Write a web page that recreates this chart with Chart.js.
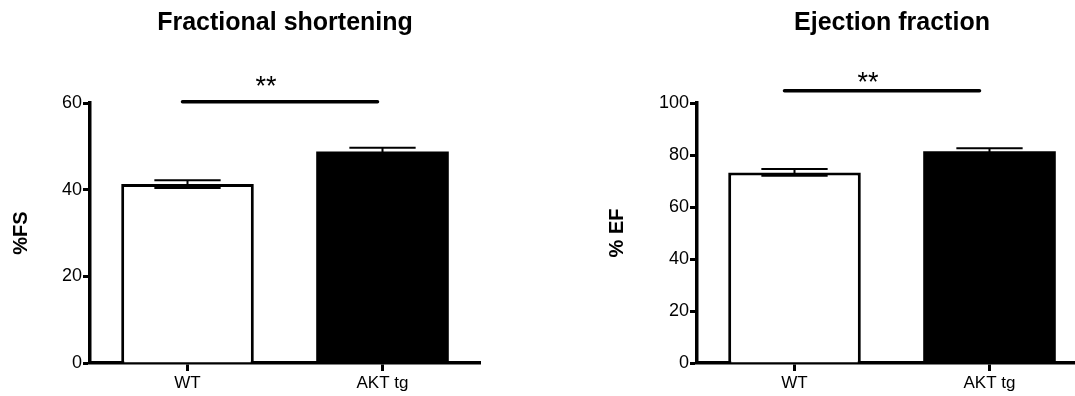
<!DOCTYPE html>
<html>
<head>
<meta charset="utf-8">
<script src="https://cdn.jsdelivr.net/npm/chart.js@4.4.1/dist/chart.umd.min.js"></script>
<style>
  html, body { margin: 0; padding: 0; background: #fff; overflow: hidden; }
  body { width: 1075px; height: 396px; position: relative; }
  canvas { position: absolute; top: 0; }
  #fsChart { left: 0; }
  #efChart { left: 600px; }
</style>
</head>
<body>
<canvas id="fsChart" width="568" height="396"></canvas>
<canvas id="efChart" width="582" height="396"></canvas>
<script>
const groups = ['WT', 'AKT tg'];

// fractional shortening (%FS), mean and SEM
const fsMean = [41.3, 48.8];
const fsSem = [0.9, 0.85];
const fsTicks = [0, 20, 40, 60];
const fsSig = [60.3, 65];   // line level, star level

// ejection fraction (%EF), mean and SEM
const efMean = [73.3, 81.4];
const efSem = [1.3, 1.2];
const efTicks = [0, 20, 40, 60, 80, 100];
const efSig = [104.7, 110];

const sigLabel = '**';

const FONT = 'Arial, "Liberation Sans", Helvetica, sans-serif';

// draws SEM whiskers, the significance bracket and the panel title
const errorBarPlugin = {
    id: 'errorBars',
    afterDatasetsDraw(chart, args, opts) {
        const ctx = chart.ctx;
        const xs = chart.scales.x;
        const ys = chart.scales.y;
        const meta = chart.getDatasetMeta(0);
        const means = chart.data.datasets[0].data;

        ctx.save();
        ctx.strokeStyle = '#000';
        ctx.lineWidth = 2;
        means.forEach((v, i) => {
            const cx = xs.getPixelForValue(i);
            const half = meta.data[i].width / 4;
            const top = ys.getPixelForValue(v + opts.sem[i]);
            const bot = ys.getPixelForValue(v - opts.sem[i]);
            ctx.beginPath();
            ctx.moveTo(cx, top); ctx.lineTo(cx, bot);
            ctx.moveTo(cx - half, top); ctx.lineTo(cx + half, top);
            ctx.moveTo(cx - half, bot); ctx.lineTo(cx + half, bot);
            ctx.stroke();
        });

        // significance line
        const x0 = xs.getPixelForValue(0) + opts.shift;
        const x1 = xs.getPixelForValue(1) + opts.shift;
        const ly = ys.getPixelForValue(opts.sig[0]);
        ctx.lineWidth = 3.5;
        ctx.lineCap = 'round';
        ctx.beginPath();
        ctx.moveTo(x0, ly);
        ctx.lineTo(x1, ly);
        ctx.stroke();

        ctx.fillStyle = '#000';
        ctx.font = '27px ' + FONT;
        ctx.textAlign = 'center';
        ctx.textBaseline = 'alphabetic';
        ctx.fillText(sigLabel, (x0 + x1) / 2 - 14, ys.getPixelForValue(opts.sig[1]) + 14);

        // title, centred over the plot area
        const area = chart.chartArea;
        ctx.font = 'bold 25px ' + FONT;
        ctx.textBaseline = 'middle';
        ctx.fillText(opts.title, (area.left + area.right) / 2, 23);
        ctx.restore();
    }
};

function makeChart(id, title, yTitle, means, sems, ticks, sig, opts) {
    const ctx = document.getElementById(id).getContext('2d');
    return new Chart(ctx, {
        type: 'bar',
        data: {
            labels: groups,
            datasets: [{
                data: means,
                backgroundColor: ['#ffffff', '#000000'],
                borderColor: '#000000',
                borderWidth: [3, 0],   // black bar needs no outline
                barPercentage: 0.68,
                categoryPercentage: 1
            }]
        },
        options: {
            responsive: false,
            animation: false,
            events: [],
            layout: { padding: { left: 0, right: opts.padRight, top: 103, bottom: 0 } },
            scales: {
                x: {
                    offset: true,
                    afterFit: s => { s.height = 33; },
                    border: { color: '#000', width: 3.5 },
                    grid: { offset: false, drawOnChartArea: false, tickLength: 8, tickWidth: 3, tickColor: '#000' },
                    ticks: { color: '#000', font: { size: 17, family: FONT }, padding: 2 }
                },
                y: {
                    min: ticks[0],
                    max: ticks[ticks.length - 1],
                    afterBuildTicks: s => { s.ticks = ticks.map(v => ({ value: v })); },
                    afterFit: s => { s.width = opts.yWidth; },
                    border: { color: '#000', width: 3.5 },
                    grid: { drawOnChartArea: false, tickLength: 7, tickWidth: 3, tickColor: '#000' },
                    ticks: { color: '#000', font: { size: 18, family: FONT }, padding: 1 },
                    title: {
                        display: true,
                        text: yTitle,
                        color: '#000',
                        font: { size: 20, weight: 'bold', family: FONT },
                        padding: { top: opts.yTitlePad, bottom: 0 }
                    }
                }
            },
            plugins: {
                legend: { display: false },
                tooltip: { enabled: false },
                title: { display: false },
                errorBars: { sem: sems, sig: sig, shift: opts.shift, title: title }
            }
        },
        plugins: [errorBarPlugin]
    });
}

makeChart('fsChart', 'Fractional shortening', '%FS', fsMean, fsSem, fsTicks, fsSig,
    { padRight: 88, yWidth: 90, yTitlePad: 9, shift: -5 });
makeChart('efChart', 'Ejection fraction', '% EF', efMean, efSem, efTicks, efSig,
    { padRight: 95, yWidth: 97, yTitlePad: 5, shift: -10 });
</script>
</body>
</html>
